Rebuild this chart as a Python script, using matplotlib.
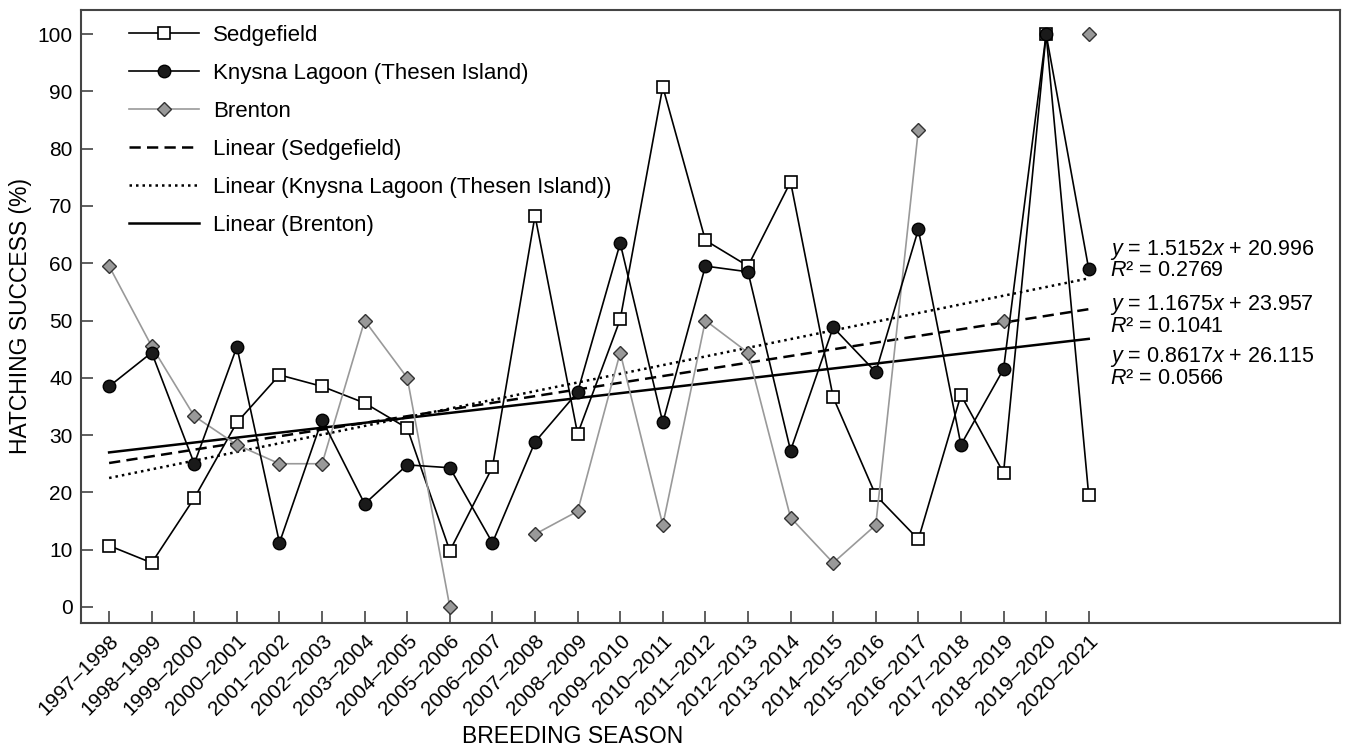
import numpy as np
import matplotlib
matplotlib.use("Agg")
import matplotlib.pyplot as plt

plt.rcParams['font.family'] = ['Liberation Sans', 'DejaVu Sans']
plt.rcParams['mathtext.fontset'] = 'custom'
plt.rcParams['mathtext.rm'] = 'Liberation Sans'
plt.rcParams['mathtext.it'] = 'Liberation Sans:italic'

seasons = ["1997–1998", "1998–1999", "1999–2000", "2000–2001", "2001–2002", "2002–2003",
           "2003–2004", "2004–2005", "2005–2006", "2006–2007", "2007–2008", "2008–2009",
           "2009–2010", "2010–2011", "2011–2012", "2012–2013", "2013–2014", "2014–2015",
           "2015–2016", "2016–2017", "2017–2018", "2018–2019", "2019–2020", "2020–2021"]

sedgefield = [10.7, 7.7, 19.0, 32.2, 40.5, 38.5, 35.6, 31.2, 9.8, 24.4, 68.3, 30.2,
              50.2, 90.8, 64.0, 59.5, 74.2, 36.6, 19.5, 11.8, 37.0, 23.4, 100.0, 19.5]
knysna = [38.5, 44.4, 25.0, 45.4, 11.2, 32.7, 18.0, 24.8, 24.3, 11.2, 28.8, 37.5,
          63.5, 32.2, 59.5, 58.5, 27.3, 48.8, 41.0, 65.9, 28.3, 41.5, 100.0, 59.0]
brenton = [59.5, 45.5, 33.3, 28.3, 25.0, 25.0, 50.0, 40.0, 0.0, np.nan, 12.7, 16.7,
           44.4, 14.3, 50.0, 44.4, 15.6, 7.7, 14.3, 83.3, np.nan, 50.0, np.nan, 100.0]

trend_slopes = [1.1675, 1.5152, 0.8617]
trend_intercepts = [23.957, 20.996, 26.115]
trend_r2 = [0.1041, 0.2769, 0.0566]

fig = plt.figure(figsize=(13.46, 7.5), dpi=100)
ax = fig.add_axes([81/1346, 1-623/750, (1340-81)/1346, (623-10)/750])

x = np.arange(len(seasons))
xn = x + 1  # Excel trendline x (1..n)

ax.plot(x, sedgefield, color='black', lw=1.2, marker='s', ms=9, mfc='white', mec='black',
        mew=1.2, label='Sedgefield', zorder=3)
ax.plot(x, knysna, color='black', lw=1.2, marker='o', ms=9, mfc='#1a1a1a', mec='black',
        label='Knysna Lagoon (Thesen Island)', zorder=4)
ax.plot(x, brenton, color='#999999', lw=1.2, marker='D', ms=7.5, mfc='#999999', mec='#333333',
        mew=1.0, label='Brenton', zorder=3)

styles = [dict(ls=(0, (4.5, 2.5))), dict(ls=(0, (1, 1.6))), dict(ls='-')]
names = ['Linear (Sedgefield)', 'Linear (Knysna Lagoon (Thesen Island))', 'Linear (Brenton)']
for s, b, st, nm in zip(trend_slopes, trend_intercepts, styles, names):
    ax.plot(x, s * xn + b, color='black', lw=1.8, label=nm, zorder=2, **st)

ax.set_xlim(-0.66, 28.9)
ax.set_ylim(-2.8, 104.2)
ax.set_xticks(x)
ax.set_xticklabels(seasons, rotation=45, ha='right', rotation_mode='anchor', fontsize=14.2)
ax.set_yticks(np.arange(0, 101, 10))
ax.tick_params(axis='both', direction='in', length=8.5, width=1.2, color='#444444', labelsize=15)
ax.tick_params(axis='y', pad=6)
ax.tick_params(axis='x', pad=6)
for sp in ax.spines.values():
    sp.set_color('#444444')
    sp.set_linewidth(1.5)

ax.set_ylabel('HATCHING SUCCESS (%)', fontsize=16.5, labelpad=4)
ax.set_xlabel('BREEDING SEASON', fontsize=16.5)
ax.xaxis.set_label_coords((573-81)/1259, -0.167)

leg = ax.legend(loc='upper left', bbox_to_anchor=(0.022, 1.008), frameon=False, fontsize=16,
                numpoints=1, handlelength=3.15, handletextpad=0.63, labelspacing=0.76)

# equation annotations
ann_y = [(250, 271), (305, 326), (357, 378)]
order = [1, 0, 2]
for (y1, y2), i in zip(ann_y, order):
    fig.text(1110/1346, 1 - y1/750, f"$y$ = {trend_slopes[i]:.4f}$x$ + {trend_intercepts[i]:.3f}",
             fontsize=15.5, va='center', ha='left')
    fig.text(1110/1346, 1 - y2/750, f"$R$² = {trend_r2[i]:.4f}", fontsize=15.5, va='center', ha='left')

fig.savefig('out.png', dpi=100)
